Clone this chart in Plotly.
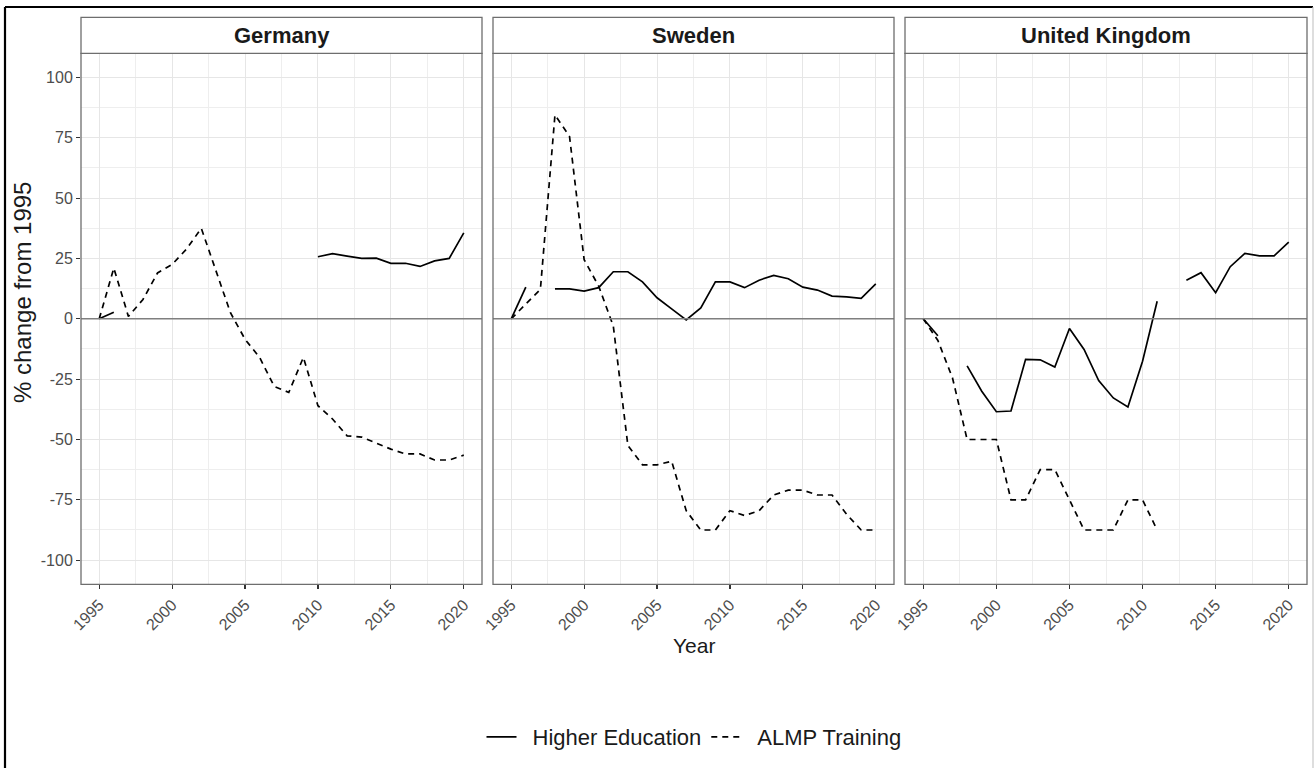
import plotly.graph_objects as go

# Years covered by every series
years = list(range(1995, 2021))

countries = ["Germany", "Sweden", "United Kingdom"]

# % change from 1995, Higher Education spending (None = no observation)
germany_he = [0, 2.7, None, None, None, None, None, None, None, None, None, None, None, None, None,
              25.7, 27, 26, 25, 25.1, 23, 23, 21.7, 24, 25, 35.6]
sweden_he = [0, 13.1, None, 12.4, 12.4, 11.5, 12.9, 19.5, 19.5, 15.3, 8.7, 4.1, -0.5, 4.5, 15.3,
             15.3, 12.9, 16, 18, 16.6, 13.1, 11.9, 9.4, 9.1, 8.5, 14.5]
uk_he = [0, -7, None, -19.5, -30, -38.5, -38.2, -16.8, -17, -20, -4, -12.7, -25.6, -32.8, -36.5,
         -17.6, 7.3, None, 16, 19.1, 10.8, 21.6, 27.1, 26.1, 26.1, 31.8]

# % change from 1995, ALMP Training spending
germany_almp = [0, 21, 1, 8, 19, 22.5, 29, 37.5, 20, 2.5, -8.5, -16, -28, -30.5, -16, -36,
                -41.5, -48.5, -49, -51.5, -54, -56, -56, -58.5, -58.5, -56.5]
sweden_almp = [0, 6, 12.2, 84.5, 75.5, 24.5, 13.5, -3, -52.5, -60.5, -60.5, -59, -79.5, -87.5,
               -87.5, -79.5, -81.5, -79.5, -73, -71, -71, -73, -73, -81, -87.5, -87.5]
uk_almp = [0, -9, -24.5, -50, -50, -50, -75, -75, -62.5, -62.5, -75, -87.5, -87.5, -87.5, -75,
           -75, -87.5, None, None, None, None, None, None, None, None, None]

he_series = [germany_he, sweden_he, uk_he]
almp_series = [germany_almp, sweden_almp, uk_almp]

x_ticks = [1995, 2000, 2005, 2010, 2015, 2020]
y_ticks = [-100, -75, -50, -25, 0, 25, 50, 75, 100]

W, H = 1315, 768
FONT = "Liberation Sans, Arial, sans-serif"

# panel pixel extents (left, right); shared vertical extent
panels_px = [(81, 482), (493, 894), (905, 1307)]
plot_top, plot_bottom = 53.3, 584.3
strip_top = 17.3


def px_x(p):
    return p / W


def px_y(p):
    return 1 - p / H


fig = go.Figure()

GAP = "\u2002"  # spacing between legend key and label

for i, name in enumerate(countries):
    ax = "" if i == 0 else str(i + 1)
    fig.add_trace(go.Scatter(
        x=years, y=he_series[i], mode="lines", name=GAP + "Higher Education",
        line=dict(color="black", width=1.7), connectgaps=False,
        showlegend=(i == 0), legendgroup="he",
        xaxis="x" + ax, yaxis="y" + ax, hoverinfo="skip"))
    fig.add_trace(go.Scatter(
        x=years, y=almp_series[i], mode="lines", name=GAP + "ALMP Training",
        line=dict(color="black", width=1.7, dash="6px,5px"), connectgaps=False,
        showlegend=(i == 0), legendgroup="almp",
        xaxis="x" + ax, yaxis="y" + ax, hoverinfo="skip"))

layout = dict(
    width=W, height=H,
    margin=dict(l=0, r=0, t=0, b=0, autoexpand=False),
    paper_bgcolor="white", plot_bgcolor="white",
    font=dict(family=FONT, color="#1a1a1a"),
    hovermode=False,
    showlegend=True,
    legend=dict(orientation="h", x=px_x(694), xanchor="center", y=px_y(737), yanchor="middle",
                font=dict(size=22, color="#1a1a1a"), itemwidth=30, bgcolor="rgba(0,0,0,0)"),
)

grid_major = "#E6E6E6"
shapes = []
annotations = []

for i, name in enumerate(countries):
    ax = "" if i == 0 else str(i + 1)
    l, r = panels_px[i]
    layout["xaxis" + ax] = dict(
        domain=[px_x(l), px_x(r)], range=[1993.75, 2021.25], anchor="y" + ax,
        tickvals=x_ticks, ticktext=[str(v) for v in x_ticks], tickangle=-45,
        ticks="outside", ticklen=4, tickwidth=1.2, tickcolor="#333333",
        tickfont=dict(size=16, color="#4d4d4d", family=FONT),
        showgrid=True, gridcolor=grid_major, gridwidth=1,
        minor=dict(dtick=5, tick0=1997.5, showgrid=True, gridcolor="#EEEEEE", gridwidth=1),
        zeroline=False, showline=False, fixedrange=True, automargin=False)
    layout["yaxis" + ax] = dict(
        domain=[px_y(plot_bottom), px_y(plot_top)], range=[-110, 110], anchor="x" + ax,
        tickvals=y_ticks, ticktext=[str(v) for v in y_ticks],
        showticklabels=(i == 0),
        ticks="outside" if i == 0 else "", ticklen=4, tickwidth=1.2, tickcolor="#333333",
        tickfont=dict(size=16, color="#4d4d4d", family=FONT),
        showgrid=True, gridcolor=grid_major, gridwidth=1,
        minor=dict(dtick=25, tick0=12.5, showgrid=True, gridcolor="#EEEEEE", gridwidth=1),
        zeroline=False, showline=False, fixedrange=True, automargin=False)

    # reference line at zero
    shapes.append(dict(type="line", xref=f"x{ax} domain", yref="y" + ax,
                       x0=0, x1=1, y0=0, y1=0, line=dict(color="#7f7f7f", width=1.4), layer="above"))
    # panel border
    shapes.append(dict(type="rect", xref="paper", yref="paper",
                       x0=px_x(l), x1=px_x(r), y0=px_y(plot_bottom), y1=px_y(plot_top),
                       line=dict(color="#6e6e6e", width=1.3), layer="above"))
    # facet strip
    shapes.append(dict(type="rect", xref="paper", yref="paper",
                       x0=px_x(l), x1=px_x(r), y0=px_y(plot_top), y1=px_y(strip_top),
                       line=dict(color="#6e6e6e", width=1.3), fillcolor="white", layer="above"))
    annotations.append(dict(text=f"<b>{name}</b>", xref="paper", yref="paper",
                            x=px_x((l + r) / 2), y=px_y((plot_top + strip_top) / 2),
                            xanchor="center", yanchor="middle", showarrow=False,
                            font=dict(size=22, color="#1a1a1a", family=FONT)))

# axis titles
annotations.append(dict(text="Year", xref="paper", yref="paper",
                        x=px_x(694), y=px_y(645), xanchor="center", yanchor="middle",
                        showarrow=False, font=dict(size=21, color="#1a1a1a", family=FONT)))
annotations.append(dict(text="% change from 1995", xref="paper", yref="paper",
                        x=px_x(22), y=px_y(293), xanchor="center", yanchor="middle",
                        textangle=-90, showarrow=False,
                        font=dict(size=24, color="#1a1a1a", family=FONT)))

# outer frame
shapes.append(dict(type="line", xref="paper", yref="paper", x0=px_x(5), x1=px_x(5),
                   y0=0, y1=px_y(7), line=dict(color="black", width=2.2)))
shapes.append(dict(type="line", xref="paper", yref="paper", x0=px_x(5), x1=px_x(1313),
                   y0=px_y(7), y1=px_y(7), line=dict(color="black", width=2.2)))
shapes.append(dict(type="line", xref="paper", yref="paper", x0=px_x(1313), x1=px_x(1313),
                   y0=0, y1=px_y(7), line=dict(color="#c8c8c8", width=1.2)))

layout["shapes"] = shapes
layout["annotations"] = annotations
fig.update_layout(**layout)

fig.write_html("out.html", config={"displayModeBar": False, "staticPlot": True})
